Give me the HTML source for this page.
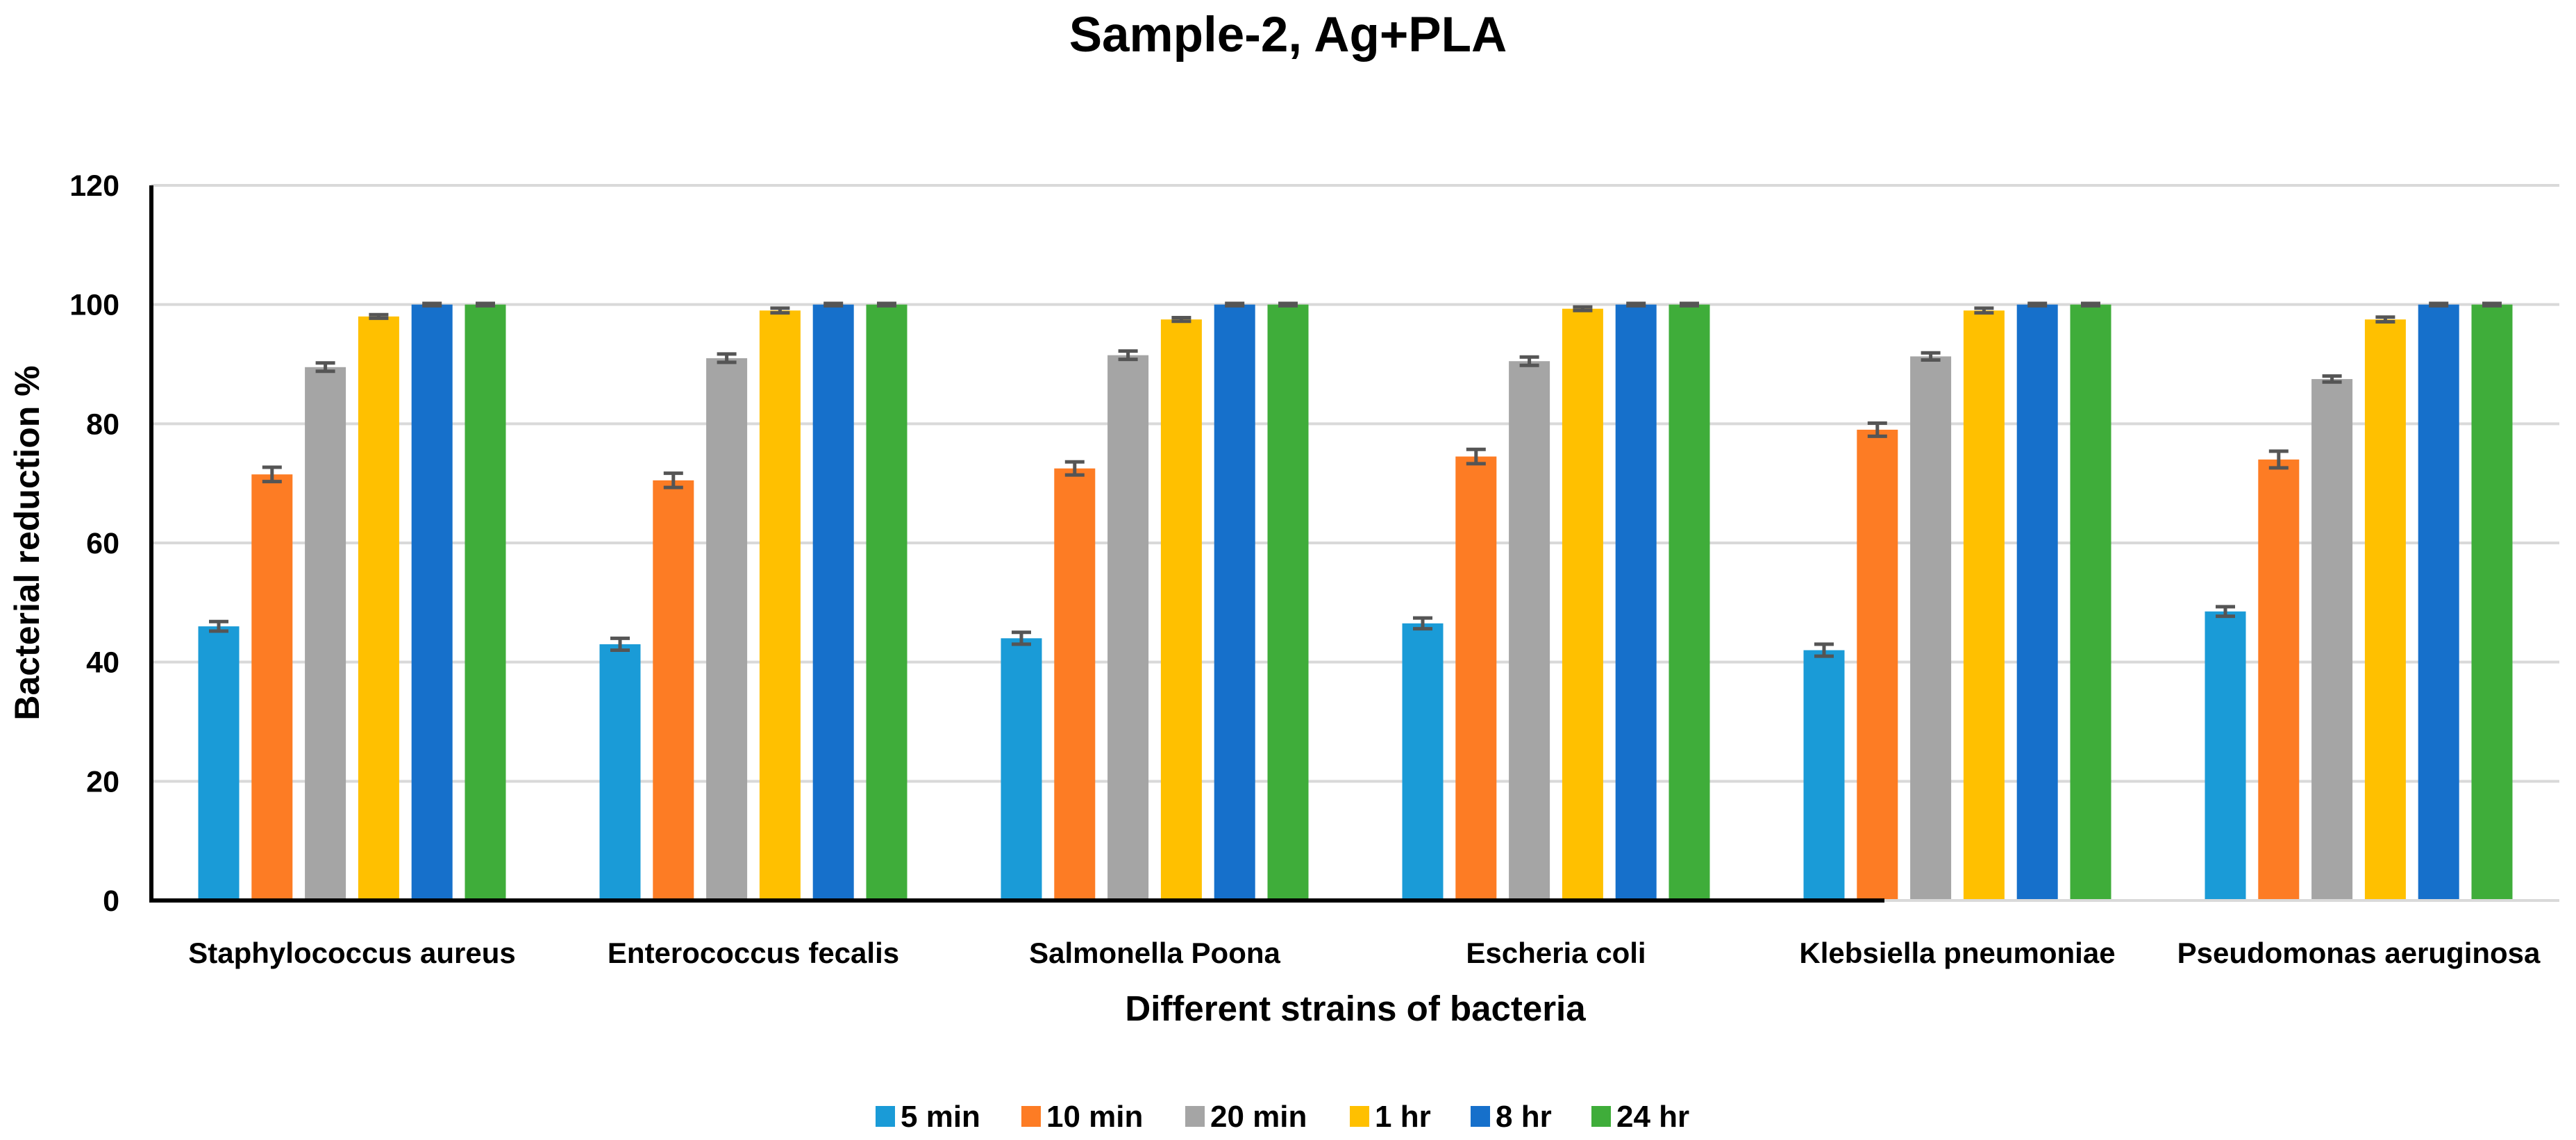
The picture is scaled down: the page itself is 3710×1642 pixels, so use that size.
<!DOCTYPE html>
<html><head><meta charset="utf-8"><style>
html,body{margin:0;padding:0;background:#fff;}
svg{display:block;font-family:"Liberation Sans",sans-serif;}
</style></head><body>
<svg id="chart" width="3710" height="1642" viewBox="0 0 3710 1642" xmlns="http://www.w3.org/2000/svg">
<text x="1855" y="74" text-anchor="middle" font-size="71" font-weight="bold" fill="#000">Sample-2, Ag+PLA</text>
<g id="grid"></g>
<g id="bars"></g>
<g id="axes"></g>
<text transform="translate(56,782) rotate(-90)" text-anchor="middle" font-size="50" font-weight="bold" fill="#000">Bacterial reduction %</text>
<text x="1952" y="1470" text-anchor="middle" font-size="51" font-weight="bold" fill="#000">Different strains of bacteria</text>
<g id="legend"></g>
</svg>
<script>
const categories=["Staphylococcus aureus","Enterococcus fecalis","Salmonella Poona","Escheria coli","Klebsiella pneumoniae","Pseudomonas aeruginosa"];
const seriesNames=["5 min","10 min","20 min","1 hr","8 hr","24 hr"];
const s5min=[46,43,44,46.5,42,48.5];
const s10min=[71.5,70.5,72.5,74.5,79,74];
const s20min=[89.5,91,91.5,90.5,91.3,87.5];
const s1hr=[98,99,97.5,99.3,99,97.5];
const s8hr=[100,100,100,100,100,100];
const s24hr=[100,100,100,100,100,100];
const err5=[0.8,1,1,0.9,1,0.8];
const err10=[1.2,1.2,1.1,1.2,1.1,1.4];
const err20=[0.7,0.7,0.7,0.7,0.6,0.5];
const err1h=[0.3,0.4,0.3,0.3,0.4,0.4];
const err8h=[0.2,0.2,0.2,0.2,0.2,0.2];
const err24h=[0.2,0.2,0.2,0.2,0.2,0.2];
const yTicks=[0,20,40,60,80,100,120];
const NS="http://www.w3.org/2000/svg";
const series=[s5min,s10min,s20min,s1hr,s8hr,s24hr];
const errs=[err5,err10,err20,err1h,err8h,err24h];
const colors=["#1a9bd7","#fd7c24","#a5a5a5","#ffc000","#1670cb","#3fad3a"];
const X0=218,X1=3686,Y0=1297,Y1=267,YMAX=120;
const y=v=>Y0-(v/YMAX)*(Y0-Y1);
const groupW=(X1-X0)/categories.length;
const barW=59,step=76.8;
const bx=(c,s)=>X0+groupW*(c+0.5)+(s-2.5)*step-barW/2;
function mk(tag,attrs,parent){const e=document.createElementNS(NS,tag);for(const k in attrs)e.setAttribute(k,attrs[k]);parent.appendChild(e);return e;}
const grid=document.getElementById('grid');
yTicks.forEach(t=>{
  if(t>0){const l=mk('line',{x1:X0,x2:X1,y1:y(t),y2:y(t),stroke:'#d9d9d9','stroke-width':4},grid);
  
  }
  const tx=mk('text',{x:172,y:y(t)+15,'text-anchor':'end','font-size':43,'font-weight':'bold',fill:'#000'},grid);
  tx.textContent=t;
  
  
});
const bars=document.getElementById('bars');
categories.forEach((c,ci)=>{
  series.forEach((s,si)=>{
    const r=mk('rect',{x:bx(ci,si),y:y(s[ci]),width:barW,height:Y0-y(s[ci]),fill:colors[si]},bars);
    
    
    const e=errs[si][ci],cx=bx(ci,si)+barW/2;
    const g=mk('g',{stroke:'#555','stroke-width':5},bars);
    
    
    mk('line',{x1:cx,x2:cx,y1:y(s[ci]+e),y2:y(s[ci]-e)},g);
    mk('line',{x1:cx-14,x2:cx+14,y1:y(s[ci]+e),y2:y(s[ci]+e)},g);
    mk('line',{x1:cx-14,x2:cx+14,y1:y(s[ci]-e),y2:y(s[ci]-e)},g);
  });
  const t=mk('text',{x:X0+groupW*(ci+0.5),y:1387,'text-anchor':'middle','font-size':42,'font-weight':'bold',fill:'#000'},bars);
  t.textContent=c;
  
  
});
const axes=document.getElementById('axes');
const ya=mk('line',{x1:X0,x2:X0,y1:Y1,y2:Y0+3,stroke:'#000','stroke-width':6},axes);


const xa=mk('line',{x1:X0-3,x2:2714,y1:Y0,y2:Y0,stroke:'#000','stroke-width':6},axes);


const xa2=mk('line',{x1:2714,x2:X1,y1:Y0,y2:Y0,stroke:'#d9d9d9','stroke-width':4},axes);


const legend=document.getElementById('legend');
const lx=[1261,1471,1707,1944,2118,2292];
seriesNames.forEach((n,i)=>{
  const g=mk('g',{},legend);
  
  
  mk('rect',{x:lx[i],y:1593,width:28,height:30,fill:colors[i]},g);
  const t=mk('text',{x:lx[i]+36,y:1623,'font-size':44,'font-weight':'bold',fill:'#000'},g);
  t.textContent=n;
});
</script>
</body></html>
